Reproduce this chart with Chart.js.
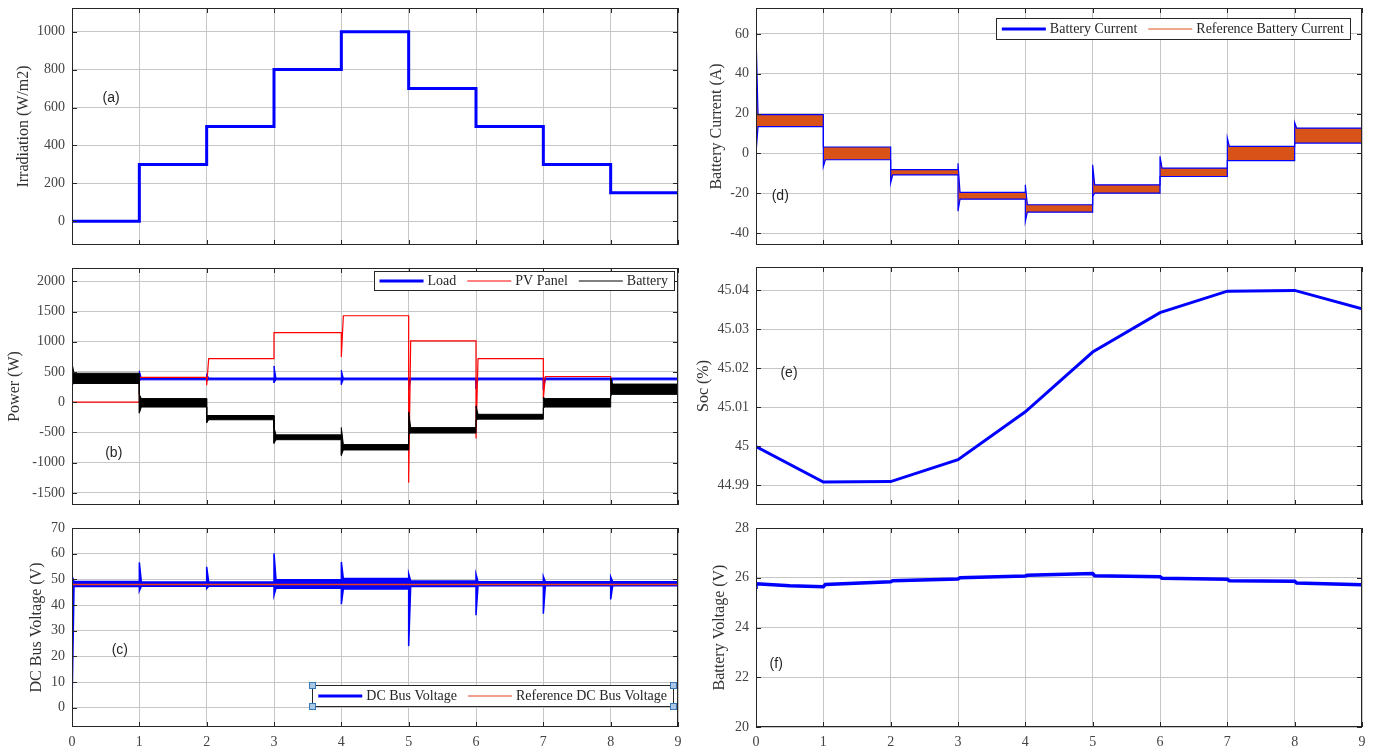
<!DOCTYPE html>
<html>
<head>
<meta charset="utf-8">
<script src="https://cdn.jsdelivr.net/npm/chart.js@4.4.1/dist/chart.umd.min.js"></script>
<style>
  body { margin: 0; background: #fff; }
  #wrap { position: relative; width: 1384px; height: 755px; overflow: hidden; }
  .panel { position: absolute; }
</style>
</head>
<body>
<div id="wrap">
  <div class="panel" style="left:0;top:0;width:690px;height:255px"><canvas id="chartA"></canvas></div>
  <div class="panel" style="left:0;top:255px;width:690px;height:255px"><canvas id="chartB"></canvas></div>
  <div class="panel" style="left:0;top:510px;width:690px;height:245px"><canvas id="chartC"></canvas></div>
  <div class="panel" style="left:690px;top:0;width:694px;height:255px"><canvas id="chartD"></canvas></div>
  <div class="panel" style="left:690px;top:255px;width:694px;height:255px"><canvas id="chartE"></canvas></div>
  <div class="panel" style="left:690px;top:510px;width:694px;height:245px"><canvas id="chartF"></canvas></div>
</div>
<script>
// time axis (s), one interval per irradiation step
const xTicks = [0, 1, 2, 3, 4, 5, 6, 7, 8, 9]

// (a) irradiation on each interval [t, t+1)
const irradiation = [0, 300, 500, 800, 1000, 700, 500, 300, 150]
const irrTicks = [0, 200, 400, 600, 800, 1000]

// (b) power (W): noise band edges per interval + transient at the start of each interval
const loadHigh = [400, 400, 400, 400, 400, 400, 400, 400, 400]
const loadLow = [370, 370, 370, 370, 370, 370, 370, 370, 370]
const loadPeak = [500, 520, 470, 600, 530, null, null, null, null]
const loadDip = [250, 360, 350, 320, 290, 200, 220, 210, 280]
const pvPower = [0, 410, 720, 1150, 1430, 1015, 720, 425, 175]
const pvTransient = [null, null, 280, null, 750, -1330, -600, 60, null]
const batteryHigh = [480, 60, -220, -540, -700, -420, -200, 60, 300]
const batteryLow = [310, -80, -290, -620, -790, -510, -280, -80, 130]
const batteryPeak = [650, 130, null, -420, -420, -160, -60, 80, 400]
const batteryDip = [300, -180, -340, -680, -880, -530, -300, -90, 110]
const powerTicks = [-1500, -1000, -500, 0, 500, 1000, 1500, 2000]

// (c) dc bus voltage (V)
const busHigh = [49.2, 49.0, 49.0, 49.8, 50.3, 49.4, 49.1, 49.1, 49.1]
const busLow = [47.2, 47.3, 47.3, 46.5, 46.2, 47.2, 47.5, 47.5, 47.5]
const busPeak = [51.3, 56.6, 54.9, 60.1, 56.8, 52.2, 52.0, 51.1, 51.0]
const busDip = [0, 45.5, 46.4, 43.8, 40.3, 24.0, 36.0, 36.6, 42.2]
const busReference = [48, 48, 48, 48, 48, 48, 48, 48, 48]
const busTicks = [0, 10, 20, 30, 40, 50, 60, 70]

// (d) battery current (A)
const currentHigh = [19.5, 3.2, -8.2, -19.6, -25.8, -15.8, -7.4, 3.5, 12.7]
const currentLow = [13.4, -3.2, -10.8, -23, -29.5, -20, -11.6, -3.6, 5.2]
const currentPeak = [61, null, null, -5, -15.8, -5.7, -1.5, 7.7, 15.5]
const currentDip = [0, -6.6, -14.8, -29, -34.2, -21.6, null, null, null]
const currentTicks = [-40, -20, 0, 20, 40, 60]

// (e) state of charge (%) at each second
const soc = [45.0, 44.9909, 44.991, 44.9966, 45.0089, 45.0242, 45.0343, 45.0398, 45.04, 45.0353]
const socTicks = [44.99, 45, 45.01, 45.02, 45.03, 45.04]

// (f) battery voltage (V)
const voltTimes = [0, 0, 0.5, 1, 1.03, 2, 2.03, 3, 3.03, 4, 4.03, 5, 5.03, 6, 6.03, 7, 7.03, 8, 8.03, 9]
const battVoltage = [25.55, 25.76, 25.68, 25.64, 25.73, 25.84, 25.88, 25.95, 26.0, 26.07, 26.1, 26.17, 26.08, 26.04, 25.98, 25.94, 25.88, 25.86, 25.79, 25.72]
const voltTicks = [20, 22, 24, 26, 28]

const gridColor = '#c6c6c6'
const tickColor = '#444'
const tickFont = { family: 'Liberation Serif', size: 14 }
const titleFont = { family: 'Liberation Serif', size: 16 }

// points of a piecewise constant signal, with an optional transient at each switching time
function switchPoints(levels, transients) {
  const pts = []
  levels.forEach(function (v, i) {
    const t = xTicks[i]
    if (transients && transients[i] != null) {
      pts.push({ x: t, y: transients[i] }, { x: t + 0.03, y: v })
    } else {
      pts.push({ x: t, y: v })
    }
    pts.push({ x: xTicks[i + 1], y: v })
  })
  return pts
}

function line(points, color, width, fill, fillColor) {
  return {
    data: points,
    borderColor: color,
    borderWidth: width,
    fill: fill || false,
    backgroundColor: fillColor || color,
    pointRadius: 0,
    tension: 0,
  }
}

// box, inward ticks, panel tag and legend like the matlab figure
const framePlugin = {
  id: 'matlabFrame',
  afterDraw: function (chart, args, opts) {
    const ctx = chart.ctx
    const area = chart.chartArea
    const xs = chart.scales.x
    const ys = chart.scales.y
    ctx.save()
    ctx.strokeStyle = '#262626'
    ctx.lineWidth = 1
    ctx.strokeRect(Math.round(area.left) + 0.5, Math.round(area.top) + 0.5, Math.round(area.width) - 1, Math.round(area.height) - 1)
    ctx.beginPath()
    xs.ticks.forEach(function (t) {
      const px = Math.round(xs.getPixelForValue(t.value)) + 0.5
      ctx.moveTo(px, area.bottom)
      ctx.lineTo(px, area.bottom - 5)
      ctx.moveTo(px, area.top)
      ctx.lineTo(px, area.top + 5)
    })
    ys.ticks.forEach(function (t) {
      const py = Math.round(ys.getPixelForValue(t.value)) + 0.5
      ctx.moveTo(area.left, py)
      ctx.lineTo(area.left + 5, py)
      ctx.moveTo(area.right, py)
      ctx.lineTo(area.right - 5, py)
    })
    ctx.stroke()

    if (opts.tag) {
      ctx.font = '14px "Liberation Sans"'
      ctx.fillStyle = '#262626'
      ctx.textAlign = 'center'
      ctx.textBaseline = 'middle'
      ctx.fillText(opts.tag.text, xs.getPixelForValue(opts.tag.x), ys.getPixelForValue(opts.tag.y))
    }

    const lg = opts.legend
    if (lg) {
      ctx.font = '14px "Liberation Serif"'
      let total = 6
      lg.items.forEach(function (it, i) {
        total += 44 + 4 + ctx.measureText(it.label).width + (i < lg.items.length - 1 ? 11 : 6)
      })
      const left = lg.right - total
      ctx.fillStyle = '#fff'
      ctx.fillRect(left, lg.top, total, lg.height)
      ctx.strokeStyle = '#262626'
      ctx.lineWidth = 1
      ctx.strokeRect(Math.round(left) + 0.5, lg.top + 0.5, Math.round(total), lg.height)
      const cy = lg.top + lg.height / 2 + 0.5
      let x = left + 6
      lg.items.forEach(function (it) {
        ctx.strokeStyle = it.color
        ctx.lineWidth = it.width
        ctx.beginPath()
        ctx.moveTo(x, cy)
        ctx.lineTo(x + 44, cy)
        ctx.stroke()
        x += 48
        ctx.fillStyle = '#262626'
        ctx.textAlign = 'left'
        ctx.textBaseline = 'middle'
        ctx.fillText(it.label, x, cy)
        x += ctx.measureText(it.label).width + 11
      })
      if (lg.handles) {
        ctx.fillStyle = '#a9c8e6'
        ctx.strokeStyle = '#3a78b5'
        ctx.lineWidth = 1
        const corners = [[left, lg.top], [left, lg.top + lg.height], [left + total, lg.top], [left + total, lg.top + lg.height]]
        corners.forEach(function (c) {
          ctx.fillRect(Math.round(c[0]) - 3, Math.round(c[1]) - 3, 7, 7)
          ctx.strokeRect(Math.round(c[0]) - 2.5, Math.round(c[1]) - 2.5, 6, 6)
        })
      }
    }
    ctx.restore()
  },
}

Chart.register(framePlugin)

function makeChart(id, cfg) {
  return new Chart(document.getElementById(id), {
    type: 'line',
    data: { datasets: cfg.datasets },
    options: {
      animation: false,
      responsive: true,
      maintainAspectRatio: false,
      events: [],
      layout: { padding: { top: cfg.padTop, right: cfg.padRight, left: 0, bottom: 0 } },
      scales: {
        x: {
          type: 'linear',
          min: 0,
          max: 9,
          afterBuildTicks: function (s) { s.ticks = xTicks.map(function (v) { return { value: v } }) },
          afterFit: function (s) {
            s.height = cfg.xHeight
            s.paddingLeft = 0
            s.paddingRight = 0
          },
          grid: { color: gridColor, drawTicks: false },
          border: { display: false },
          ticks: { display: cfg.showX, padding: 7, color: tickColor, font: tickFont, callback: function (v) { return String(v) } },
        },
        y: {
          type: 'linear',
          min: cfg.yMin,
          max: cfg.yMax,
          afterBuildTicks: function (s) { s.ticks = cfg.yTicks.map(function (v) { return { value: v } }) },
          afterFit: function (s) {
            s.width = cfg.yWidth
            s.paddingTop = 0
            s.paddingBottom = 0
          },
          grid: { color: gridColor, drawTicks: false },
          border: { display: false },
          ticks: { padding: 7, color: tickColor, font: tickFont, callback: function (v) { return String(+v.toFixed(2)) } },
          title: { display: true, text: cfg.title, color: '#333', font: titleFont, padding: { top: cfg.titlePad, bottom: 0 } },
        },
      },
      plugins: {
        legend: { display: false },
        tooltip: { enabled: false },
        filler: { drawTime: cfg.fillTime || 'beforeDatasetDraw' },
        matlabFrame: cfg.frame,
      },
    },
  })
}

// (a)
makeChart('chartA', {
  datasets: [line(switchPoints(irradiation), '#0000ff', 3)],
  padTop: 8, padRight: 12, xHeight: 10, showX: false, yWidth: 72,
  yMin: -125, yMax: 1125, yTicks: irrTicks, title: 'Irradiation (W/m2)', titlePad: 14,
  frame: { tag: { text: '(a)', x: 0.58, y: 650 } },
})

// (b)
makeChart('chartB', {
  datasets: [
    line(switchPoints(batteryHigh, batteryPeak), '#000', 1, '+1', '#000'),
    line(switchPoints(batteryLow, batteryDip), '#000', 1),
    line(switchPoints(pvPower, pvTransient), '#ff0000', 1.2),
    line(switchPoints(loadHigh, loadPeak), '#0000ff', 1, '+1', '#0000ff'),
    line(switchPoints(loadLow, loadDip), '#0000ff', 1),
  ],
  padTop: 13, padRight: 12, xHeight: 5, showX: false, yWidth: 72,
  yMin: -1700, yMax: 2220, yTicks: powerTicks, title: 'Power (W)', titlePad: 5,
  frame: {
    tag: { text: '(b)', x: 0.62, y: -835 },
    legend: {
      right: 674, top: 16, height: 19,
      items: [
        { label: 'Load', color: '#0000ff', width: 3 },
        { label: 'PV Panel', color: '#ff0000', width: 1 },
        { label: 'Battery', color: '#000', width: 1 },
      ],
    },
  },
})

// (c)
makeChart('chartC', {
  datasets: [
    line(switchPoints(busReference), '#e8401c', 1.5),
    line(switchPoints(busHigh, busPeak), '#0000ff', 1.5, '+1', '#0000ff'),
    line(switchPoints(busLow, busDip), '#0000ff', 1.5),
  ],
  fillTime: 'beforeDatasetsDraw',
  padTop: 18, padRight: 12, xHeight: 28, showX: true, yWidth: 72,
  yMin: -7.5, yMax: 70, yTicks: busTicks, title: 'DC Bus Voltage (V)', titlePad: 27,
  frame: {
    tag: { text: '(c)', x: 0.71, y: 22.5 },
    legend: {
      right: 673, top: 175, height: 21, handles: true,
      items: [
        { label: 'DC Bus Voltage', color: '#0000ff', width: 3 },
        { label: 'Reference DC Bus Voltage', color: '#e8401c', width: 1 },
      ],
    },
  },
})

// (d)
makeChart('chartD', {
  datasets: [
    line(switchPoints(currentHigh, currentPeak), '#0000ff', 1.2, '+1', '#d95319'),
    line(switchPoints(currentLow, currentDip), '#0000ff', 1.2),
  ],
  fillTime: 'beforeDatasetsDraw',
  padTop: 8, padRight: 22, xHeight: 10, showX: false, yWidth: 66,
  yMin: -46, yMax: 73, yTicks: currentTicks, title: 'Battery Current (A)', titlePad: 17,
  frame: {
    tag: { text: '(d)', x: 0.36, y: -21.6 },
    legend: {
      right: 660, top: 18, height: 21,
      items: [
        { label: 'Battery Current', color: '#0000ff', width: 3 },
        { label: 'Reference Battery Current', color: '#d95319', width: 1 },
      ],
    },
  },
})

// (e)
makeChart('chartE', {
  datasets: [line(soc.map(function (v, i) { return { x: xTicks[i], y: v } }), '#0000ff', 3)],
  padTop: 12, padRight: 22, xHeight: 5, showX: false, yWidth: 66,
  yMin: 44.985, yMax: 45.046, yTicks: socTicks, title: 'Soc (%)', titlePad: 4,
  frame: { tag: { text: '(e)', x: 0.49, y: 45.0188 } },
})

// (f)
makeChart('chartF', {
  datasets: [line(battVoltage.map(function (v, i) { return { x: voltTimes[i], y: v } }), '#0000ff', 3.5)],
  padTop: 18, padRight: 22, xHeight: 28, showX: true, yWidth: 66,
  yMin: 20, yMax: 28, yTicks: voltTicks, title: 'Battery Voltage (V)', titlePad: 20,
  frame: { tag: { text: '(f)', x: 0.3, y: 22.53 } },
})
</script>
</body>
</html>
